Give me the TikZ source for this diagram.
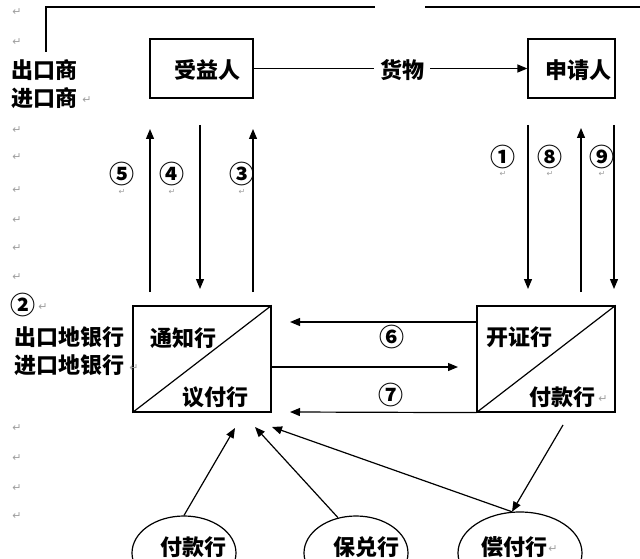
\documentclass[tikz,border=0pt]{standalone}
\usepackage{fontspec}
\newfontfamily\cjk{Noto Sans CJK SC}
\newfontfamily\dv{DejaVu Sans}
\usetikzlibrary{arrows.meta,shapes.geometric}
\begin{document}
\begin{tikzpicture}[x=1pt,y=-1pt,
  every node/.style={inner sep=0pt, font=\cjk\bfseries\fontsize{22}{24}\selectfont},
  box/.style={draw, line width=1.2pt},
  ln/.style={line width=1.2pt},
  arr/.style={line width=1.2pt, -{Triangle[length=10pt,width=8pt]}},
  num/.style={font=\cjk\bfseries\fontsize{25}{27}\selectfont},
  ret/.style={font=\dv\fontsize{11}{12}\selectfont, text=gray!75},
  sret/.style={font=\dv\fontsize{8}{9}\selectfont, text=gray!75},
  oval/.style={draw, ellipse, line width=1.2pt}]
\useasboundingbox (0,0) rectangle (640,559);
\fill[white] (0,0) rectangle (640,559);

% top frame line
\coordinate (tl0) at (46,52);
\coordinate (tl1) at (46,7);
\coordinate (tl2) at (375,7);
\coordinate (tl3) at (425,7);
\coordinate (tl4) at (640,7);
\draw[ln] (tl0) -- (tl1) -- (tl2);
\draw[ln] (tl3) -- (tl4);

% boxes
\node[box, minimum width=103, minimum height=59] (bene) at (201.5,68.5) {};
\node (beneT) at (207,70) {受益人};
\node[box, minimum width=87, minimum height=59] (appl) at (571.5,68.5) {};
\node (applT) at (578,70) {申请人};
\node[box, minimum width=138, minimum height=106] (lb) at (202,359) {};
\node[box, minimum width=138, minimum height=106] (rb) at (546,359) {};
\draw[ln] (lb.south west) -- (lb.north east);
\draw[ln] (rb.south west) -- (rb.north east);
\node (lbA) at (183,338) {通知行};
\node (lbB) at (215,397) {议付行};
\node (rbA) at (519,337) {开证行};
\node (rbB) at (562,397) {付款行};
\node[ret] (rbR) at (603,399) {↵};

% goods arrow
\draw[arr] (bene.east) -- (appl.west);
\node[fill=white, inner xsep=6pt] (goods) at (402,70) {货物};

% left texts
\node (ex1) at (45,70) {出口商};
\node (ex2) at (45,98) {进口商};
\node[ret] (ex2r) at (87,100) {↵};
\node[num] (n2) at (23,305) {②};
\node[ret] (n2r) at (43,307) {↵};
\node (bk1) at (69,337) {出口地银行};
\node (bk2) at (69,365) {进口地银行};
\node[ret] (bk2r) at (134,368) {↵};

% margin return marks
\foreach \yy [count=\i] in {12,42,130,157,190,220,248,277,428,458,488,516}
  \node[ret] (m\i) at (17,\yy) {↵};

% left verticals
\coordinate (a5s) at (150,292); \coordinate (a5e) at (150,129);
\coordinate (a4s) at (200,125); \coordinate (a4e) at (200,289);
\coordinate (a3s) at (253,292); \coordinate (a3e) at (253,129);
\draw[arr] (a5s) -- (a5e);
\draw[arr] (a4s) -- (a4e);
\draw[arr] (a3s) -- (a3e);
\node[num] (n5) at (122,174) {⑤};
\node[num] (n4) at (172,174) {④};
\node[num] (n3) at (242,174) {③};
\node[sret] (n5r) at (122,192) {↵};
\node[sret] (n4r) at (172,192) {↵};
\node[sret] (n3r) at (242,192) {↵};

% right verticals
\coordinate (a1s) at (528,125); \coordinate (a1e) at (528,289);
\coordinate (a8s) at (581,292); \coordinate (a8e) at (581,128);
\coordinate (a9s) at (614,125); \coordinate (a9e) at (614,289);
\draw[arr] (a1s) -- (a1e);
\draw[arr] (a8s) -- (a8e);
\draw[arr] (a9s) -- (a9e);
\node[num] (n1) at (503,157) {①};
\node[num] (n8) at (550,157) {⑧};
\node[num] (n9) at (602,157) {⑨};
\node[sret] (n1r) at (503,174) {↵};
\node[sret] (n8r) at (550,174) {↵};
\node[sret] (n9r) at (602,174) {↵};

% bank arrows
\coordinate (a6e) at (290,322);
\coordinate (amE) at (458,367);
\coordinate (a7e) at (290,412);
\draw[arr] (rb.west |- a6e) -- (a6e);
\draw[arr] (lb.east |- amE) -- (amE);
\draw[arr] (rb.south west) -- (a7e);
\node[num] (n6) at (392,337) {⑥};
\node[num] (n7) at (391,395) {⑦};

% ovals
\node[oval, minimum width=104, minimum height=74] (e1) at (184,553) {};
\node (e1T) at (193,547) {付款行};
\node[oval, minimum width=104, minimum height=74] (e2) at (356,553) {};
\node (e2T) at (366,547) {保兑行};
\node[oval, minimum width=124, minimum height=82] (e3) at (520,553) {};
\node (e3T) at (514,547) {偿付行};
\node[ret] (e3r) at (553,549) {↵};

\coordinate (t1) at (235,428);
\coordinate (t2) at (255,427);
\coordinate (t3) at (272,427);
\coordinate (rbo) at (563,425);
\draw[arr] (e1.90) -- (t1);
\draw[arr] (e2.117) -- (t2);
\draw[arr] (e3.101) -- (t3);
\draw[arr] (rbo) -- (e3.101);
\end{tikzpicture}
\end{document}
